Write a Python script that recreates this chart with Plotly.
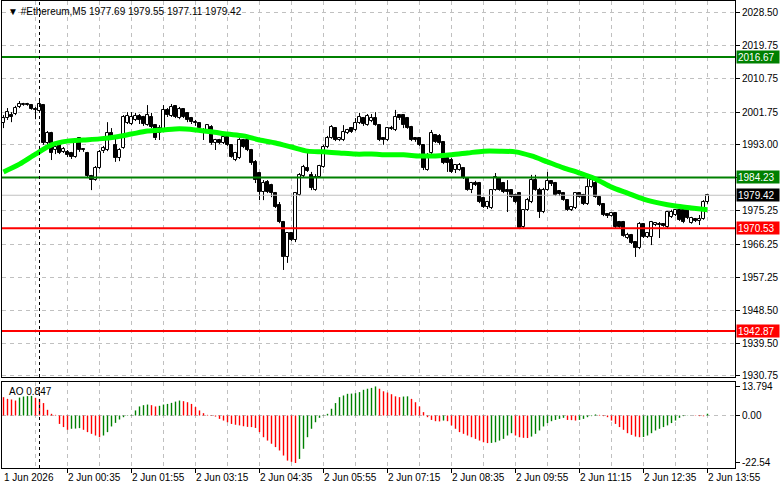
import plotly.graph_objects as go

# ---------------- data ----------------
opens = [
1998.9, 2000.2, 2001.0, 2001.3, 2003.2, 2003.7, 2004.0, 2003.7, 2002.6, 2002.1,
2003.7, 1993.5, 1996.2, 1991.6, 1993.0, 1991.1, 1991.1, 1990.8, 1989.7, 1994.8,
1991.9, 1990.8, 1984.6, 1983.5, 1986.8, 1991.3, 1991.6, 1996.2, 1993.0, 1989.5,
1992.1, 1998.9, 1998.6, 1999.7, 2000.8, 2000.5, 1998.3, 2000.5, 1998.3, 1996.2,
1997.0, 2002.4, 2000.8, 2003.5, 2000.2, 2002.6, 2001.6, 2000.2, 1999.1, 1998.9,
1997.0, 1996.5, 1997.8, 1993.5, 1994.3, 1993.5, 1995.1, 1993.0, 1988.9, 1989.5,
1994.3, 1994.3, 1991.6, 1988.4, 1985.4, 1980.3, 1983.0, 1982.2, 1980.0, 1976.8,
1972.2, 1962.8, 1969.3, 1967.4, 1979.5, 1984.6, 1986.8, 1984.9, 1980.8, 1984.3,
1987.0, 1992.4, 1994.8, 1997.5, 1994.3, 1994.3, 1996.2, 1997.5, 1997.0, 1998.9,
2000.2, 1998.3, 1999.4, 2000.2, 1998.3, 1994.8, 1994.3, 1997.3, 1997.0, 2001.0,
2001.0, 2000.2, 1997.8, 1994.8, 1994.8, 1993.0, 1986.2, 1990.8, 1995.6, 1995.4,
1993.8, 1989.5, 1988.9, 1986.2, 1986.2, 1986.8, 1984.1, 1980.8, 1982.7, 1982.7,
1978.7, 1976.3, 1976.0, 1980.8, 1984.1, 1982.7, 1980.8, 1980.8, 1979.5, 1980.0,
1970.9, 1975.5, 1977.6, 1983.5, 1980.8, 1974.9, 1980.8, 1983.3, 1982.7, 1980.6,
1980.0, 1978.1, 1975.5, 1976.0, 1980.0, 1979.5, 1977.1, 1981.6, 1982.7, 1978.9,
1977.1, 1974.4, 1973.8, 1974.6, 1972.2, 1972.2, 1967.9, 1968.7, 1966.8, 1965.2,
1971.7, 1968.2, 1968.2, 1971.4, 1971.7, 1971.7, 1970.9, 1973.6, 1974.1, 1975.5,
1975.5, 1975.5, 1971.9, 1973.0, 1972.5, 1973.0, 1977.69]

highs = [
2001.0, 2002.9, 2001.8, 2003.5, 2004.8, 2004.3, 2004.3, 2004.0, 2003.2, 2005.1,
2004.0, 1996.7, 1996.5, 1993.0, 1993.2, 1992.4, 1991.6, 1991.1, 1994.3, 1995.1,
1992.1, 1991.1, 1984.9, 1987.3, 1991.6, 1992.7, 1999.1, 1997.5, 1995.6, 1992.1,
2001.0, 2001.8, 2001.8, 2001.6, 2001.3, 2000.8, 2003.7, 2001.6, 1998.6, 1998.3,
2003.7, 2002.9, 2004.0, 2003.7, 2003.2, 2002.9, 2001.8, 2000.5, 1999.7, 1999.1,
1997.5, 1998.6, 1998.3, 1994.6, 1994.6, 1995.4, 1995.4, 1993.2, 1991.1, 1994.8,
1994.6, 1994.6, 1991.9, 1988.9, 1985.7, 1983.5, 1983.5, 1982.5, 1980.3, 1977.6,
1972.5, 1969.5, 1969.5, 1980.3, 1985.4, 1987.6, 1991.1, 1985.7, 1985.1, 1987.6,
1993.0, 1995.4, 1998.3, 1997.8, 1995.1, 1998.3, 1997.3, 1997.8, 2000.2, 2001.6,
2000.5, 2001.3, 2001.3, 2001.8, 1998.6, 1995.1, 1997.8, 1998.1, 2002.4, 2001.3,
2001.3, 2000.5, 1998.1, 1995.1, 1995.1, 1993.2, 1990.8, 1997.0, 1995.9, 1995.9,
1994.0, 1989.7, 1989.5, 1987.8, 1988.1, 1987.0, 1984.3, 1983.0, 1983.3, 1983.0,
1978.9, 1977.9, 1981.1, 1985.4, 1984.3, 1983.0, 1983.5, 1981.1, 1979.8, 1980.3,
1975.7, 1978.7, 1984.9, 1984.9, 1981.4, 1981.4, 1985.7, 1983.5, 1983.0, 1980.8,
1980.3, 1978.4, 1976.5, 1980.3, 1980.3, 1979.8, 1984.3, 1984.3, 1983.8, 1979.2,
1977.3, 1974.6, 1974.9, 1974.9, 1972.5, 1972.5, 1969.3, 1969.0, 1967.1, 1972.2,
1971.9, 1969.5, 1972.5, 1972.2, 1972.2, 1971.9, 1975.2, 1975.5, 1975.7, 1975.7,
1975.7, 1975.7, 1973.6, 1973.3, 1974.1, 1978.1, 1979.55]

lows = [
1997.5, 1999.7, 1999.1, 2001.0, 2002.9, 2003.5, 2003.5, 2002.4, 1999.9, 2001.8,
1993.0, 1993.0, 1988.9, 1990.5, 1990.5, 1990.8, 1989.7, 1989.2, 1989.5, 1991.1,
1991.1, 1984.3, 1980.8, 1983.3, 1986.5, 1990.8, 1991.3, 1994.3, 1988.4, 1988.6,
1991.9, 1998.6, 1998.3, 1999.4, 1998.6, 1998.1, 1998.1, 1997.5, 1994.3, 1994.3,
1996.7, 2000.5, 2000.5, 2000.2, 1999.9, 2000.2, 1999.1, 1998.6, 1998.1, 1997.0,
1994.3, 1996.2, 1993.0, 1991.6, 1993.2, 1993.2, 1992.7, 1989.5, 1988.6, 1989.2,
1992.1, 1991.3, 1987.6, 1982.7, 1978.1, 1978.1, 1980.0, 1978.9, 1976.0, 1971.9,
1959.3, 1961.2, 1967.1, 1966.8, 1979.2, 1984.3, 1985.7, 1980.8, 1980.6, 1984.1,
1986.8, 1992.1, 1994.6, 1994.0, 1994.0, 1994.0, 1995.9, 1996.2, 1996.7, 1998.6,
1998.1, 1998.1, 1999.1, 1998.1, 1994.0, 1993.0, 1994.0, 1997.0, 1996.7, 1999.7,
1997.5, 1997.3, 1994.0, 1993.8, 1992.7, 1986.2, 1986.0, 1990.5, 1993.5, 1993.0,
1987.8, 1985.7, 1985.4, 1985.4, 1986.0, 1983.8, 1980.6, 1980.0, 1981.9, 1977.3,
1976.0, 1975.7, 1975.7, 1980.6, 1980.6, 1980.0, 1974.9, 1978.7, 1977.3, 1970.3,
1970.6, 1975.2, 1977.3, 1980.6, 1973.3, 1974.6, 1980.6, 1981.9, 1979.2, 1979.2,
1977.9, 1975.2, 1975.2, 1975.7, 1978.7, 1976.8, 1976.8, 1981.4, 1978.7, 1976.5,
1973.8, 1973.3, 1973.6, 1970.6, 1970.6, 1968.2, 1967.6, 1966.3, 1962.8, 1964.9,
1967.9, 1967.9, 1966.0, 1971.1, 1967.9, 1970.9, 1970.6, 1973.3, 1973.8, 1972.5,
1971.9, 1973.0, 1971.7, 1972.2, 1971.4, 1972.8, 1977.11]

closes = [
2000.2, 2001.8, 2000.5, 2002.9, 2004.0, 2004.0, 2003.7, 2002.6, 2002.4, 2004.0,
1993.5, 1996.2, 1990.8, 1992.4, 1990.8, 1991.9, 1990.3, 1989.7, 1993.5, 1991.6,
1991.6, 1984.6, 1983.5, 1986.8, 1991.1, 1992.1, 1996.2, 1995.4, 1989.5, 1991.6,
2000.5, 2000.8, 2000.5, 2000.8, 1999.7, 1998.6, 2001.0, 1997.8, 1994.8, 1997.5,
2002.4, 2001.0, 2003.2, 2000.5, 2002.6, 2000.5, 1999.7, 1999.1, 1998.9, 1997.5,
1996.5, 1998.3, 1993.5, 1994.3, 1993.5, 1995.1, 1993.0, 1989.7, 1990.8, 1994.3,
1992.4, 1991.6, 1988.1, 1983.5, 1980.3, 1982.7, 1980.3, 1980.0, 1976.3, 1972.2,
1962.8, 1969.3, 1967.4, 1980.0, 1984.9, 1987.0, 1986.0, 1981.4, 1984.3, 1987.3,
1992.4, 1994.8, 1997.8, 1994.3, 1994.8, 1996.5, 1997.0, 1996.5, 1998.9, 2000.5,
1998.6, 2000.8, 2000.2, 1998.3, 1994.3, 1994.3, 1997.5, 1997.5, 2000.5, 2000.2,
1998.3, 1997.5, 1994.3, 1994.3, 1993.0, 1986.8, 1990.3, 1996.2, 1993.8, 1993.5,
1988.1, 1988.1, 1985.7, 1987.6, 1987.6, 1984.1, 1980.8, 1982.7, 1982.2, 1977.6,
1976.3, 1977.6, 1980.8, 1984.3, 1980.8, 1980.3, 1980.3, 1978.9, 1977.6, 1970.6,
1975.5, 1978.1, 1983.5, 1980.8, 1974.9, 1980.8, 1983.3, 1982.5, 1979.5, 1979.8,
1978.1, 1975.5, 1976.3, 1980.0, 1978.9, 1977.1, 1981.6, 1983.5, 1978.9, 1976.8,
1974.1, 1973.8, 1974.6, 1970.9, 1970.9, 1968.4, 1968.7, 1966.6, 1965.2, 1971.7,
1968.2, 1969.3, 1972.2, 1971.9, 1971.4, 1971.1, 1974.9, 1974.9, 1975.5, 1972.8,
1972.2, 1973.3, 1973.3, 1972.5, 1973.0, 1977.6, 1979.42]

# moving average read every 4 bars
ma_idx = list(range(0, 177, 4))
ma_vals = [1985.7, 1987.8, 1990.5, 1993.0, 1994.0, 1994.3, 1994.6, 1995.1, 1995.9, 1996.7,
           1997.0, 1997.3, 1997.0, 1996.5, 1995.9, 1995.4, 1994.3, 1993.5, 1992.4, 1991.3,
           1991.1, 1990.8, 1990.5, 1990.5, 1990.3, 1990.3, 1990.0, 1990.0, 1990.3, 1990.8,
           1991.3, 1991.3, 1991.1, 1990.0, 1988.4, 1986.8, 1985.4, 1983.8, 1981.6, 1980.0,
           1978.4, 1977.3, 1976.5, 1976.0, 1975.5]

ao_vals = [
8.7, 7.9, 7.6, 7.1, 8.5, 9.0, 9.2, 9.3, 8.4, 7.9,
5.9, 2.7, 0.8, 0.3, -4.0, -5.5, -6.8, -6.3, -6.2, -6.0,
-6.8, -7.9, -8.7, -9.5, -10.3, -9.5, -7.9, -5.2, -3.5, -1.9,
-0.8, -0.2, 0.3, 2.4, 4.3, 4.9, 5.2, 4.9, 4.3, 4.6,
5.2, 5.5, 6.0, 6.6, 7.1, 6.8, 6.3, 5.5, 4.0, 2.4,
1.1, 0.3, -0.2, -0.5, -1.6, -2.4, -3.2, -4.0, -4.4, -4.7,
-5.1, -5.4, -5.5, -5.9, -7.9, -10.3, -11.9, -13.4, -15.0, -16.6,
-19.0, -21.4, -22.0, -22.54, -20.6, -15.8, -10.3, -6.3, -3.2, -1.1,
-0.2, 0.8, 3.2, 5.9, 8.7, 9.5, 10.3, 10.4, 10.6, 11.1,
12.2, 12.7, 13.1, 13.794, 12.7, 11.5, 10.9, 10.1, 9.1, 8.7,
9.0, 9.1, 7.9, 6.3, 4.3, 1.6, -0.8, -2.1, -2.7, -2.8,
-2.4, -2.7, -4.7, -6.3, -7.9, -8.7, -9.5, -10.3, -11.1, -11.9,
-12.7, -13.1, -13.0, -12.7, -11.9, -11.1, -9.5, -8.4, -9.5, -10.3,
-10.6, -10.7, -10.0, -8.7, -7.1, -5.2, -3.6, -2.7, -2.1, -1.6,
-1.1, -2.1, -2.2, -2.4, -2.1, -1.6, -0.8, -0.3, 0.5, 0.3,
-0.3, -0.8, -2.4, -4.0, -5.5, -6.8, -8.4, -9.2, -10.0, -10.3,
-10.2, -9.5, -8.4, -7.1, -6.3, -5.5, -4.7, -3.6, -2.4, -1.1,
-0.3, -0.1, 0.05, -0.15, -0.3, -0.35, 0.847]

green_levels = [2016.67, 1984.23]
red_levels = [1970.53, 1942.87]
bid_price = 1979.42

price_ticks = [2028.50, 2019.75, 2010.75, 2001.75, 1993.00, 1984.25,
               1975.25, 1966.25, 1957.25, 1948.50, 1939.50, 1930.75]
price_ticktext = ["2028.50", "2019.75", "2010.75", "2001.75", "1993.00", "",
                  "1975.25", "1966.25", "1957.25", "1948.50", "1939.50", "1930.75"]
ao_ticks = [13.794, 0.0, -22.54]
ao_ticktext = ["13.794", "0.00", "-22.54"]

time_idx = list(range(0, 177, 16))
time_labels = ["1 Jun 2026", "2 Jun 00:35", "2 Jun 01:55", "2 Jun 03:15", "2 Jun 04:35",
               "2 Jun 05:55", "2 Jun 07:15", "2 Jun 08:35", "2 Jun 09:55", "2 Jun 11:15",
               "2 Jun 12:35", "2 Jun 13:55"]
day_sep_idx = 9
symbol = "#Ethereum,M5"

# ---------------- figure ----------------
N = len(closes)
idx = list(range(N))
XMIN, XMAX = -0.375, 182.875
FONT = "Liberation Sans"
FS = 10
GRID = "#c0c0c0"

fig = go.Figure()

# candle bodies
body_base = [min(o, c) for o, c in zip(opens, closes)]
body_h = [max(abs(c - o), 0.06) for o, c in zip(opens, closes)]
body_col = ["white" if c >= o else "black" for o, c in zip(opens, closes)]
fig.add_trace(go.Bar(x=idx, y=body_h, base=body_base, width=0.55,
                     marker=dict(color=body_col, line=dict(color="black", width=1)),
                     xaxis="x", yaxis="y", hoverinfo="skip", showlegend=False))

# wicks (upper and lower segments so they do not cross white bodies)
wx, wy = [], []
for i in idx:
    top = max(opens[i], closes[i]); bot = min(opens[i], closes[i])
    if highs[i] > top:
        wx += [i, i, None]; wy += [top, highs[i], None]
    if lows[i] < bot:
        wx += [i, i, None]; wy += [bot, lows[i], None]
fig.add_trace(go.Scatter(x=wx, y=wy, mode="lines", line=dict(color="black", width=1),
                         xaxis="x", yaxis="y", hoverinfo="skip", showlegend=False))

# bid line
fig.add_trace(go.Scatter(x=[XMIN, XMAX], y=[bid_price, bid_price], mode="lines",
                         line=dict(color="#c0c0c0", width=1), xaxis="x", yaxis="y",
                         hoverinfo="skip", showlegend=False))
# level lines
for lv in green_levels:
    fig.add_trace(go.Scatter(x=[XMIN, XMAX], y=[lv, lv], mode="lines",
                             line=dict(color="#008000", width=2), xaxis="x", yaxis="y",
                             hoverinfo="skip", showlegend=False))
for lv in red_levels:
    fig.add_trace(go.Scatter(x=[XMIN, XMAX], y=[lv, lv], mode="lines",
                             line=dict(color="#ff0000", width=2), xaxis="x", yaxis="y",
                             hoverinfo="skip", showlegend=False))

# moving average
fig.add_trace(go.Scatter(x=ma_idx, y=ma_vals, mode="lines",
                         line=dict(color="#00ff00", width=5, shape="spline", smoothing=0.8),
                         xaxis="x", yaxis="y", hoverinfo="skip", showlegend=False))

# AO histogram as thin vertical lines, green when rising, red otherwise
gx, gy, rx, ry = [], [], [], []
for k in idx:
    rising = k > 0 and ao_vals[k] > ao_vals[k - 1]
    if rising:
        gx += [k, k, None]; gy += [0, ao_vals[k], None]
    else:
        rx += [k, k, None]; ry += [0, ao_vals[k], None]
fig.add_trace(go.Scatter(x=gx, y=gy, mode="lines", line=dict(color="#008000", width=1.4),
                         xaxis="x2", yaxis="y2", hoverinfo="skip", showlegend=False))
fig.add_trace(go.Scatter(x=rx, y=ry, mode="lines", line=dict(color="#ff0000", width=1.4),
                         xaxis="x2", yaxis="y2", hoverinfo="skip", showlegend=False))

axis_common = dict(showline=True, linecolor="black", linewidth=1, mirror=True,
                   zeroline=False, fixedrange=True)

fig.update_layout(
    width=781, height=489,
    margin=dict(l=2, r=46, t=1, b=21),
    paper_bgcolor="white", plot_bgcolor="white",
    barmode="overlay", bargap=0,
    font=dict(family=FONT, size=FS, color="black"),
    xaxis=dict(domain=[0, 1], anchor="y", range=[XMIN, XMAX],
               tickmode="array", tickvals=list(range(8, 177, 8)), ticks="",
               showticklabels=False, showgrid=True, gridcolor=GRID, gridwidth=1,
               griddash="4px,4px", **axis_common),
    yaxis=dict(domain=[0.19486, 1], anchor="x", range=[1930.47, 2031.73], side="right",
               tickmode="array", tickvals=price_ticks, ticktext=price_ticktext,
               ticks="outside", ticklen=4, tickcolor="black",
               showgrid=True, gridcolor=GRID, gridwidth=1, griddash="4px,4px",
               tickfont=dict(family=FONT, size=FS, color="black"), **axis_common),
    xaxis2=dict(domain=[0, 1], anchor="y2", range=[XMIN, XMAX],
                tickmode="array", tickvals=list(range(8, 177, 16)), ticks="",
                showticklabels=False, showgrid=True, gridcolor=GRID, gridwidth=1,
                griddash="4px,4px",
                minor=dict(tickmode="array", tickvals=time_idx[1:], ticks="outside",
                           ticklen=4, tickcolor="black", showgrid=True,
                           gridcolor=GRID, gridwidth=1, griddash="4px,4px"),
                **axis_common),
    yaxis2=dict(domain=[0, 0.18415], anchor="x2", range=[-24.92, 15.9], side="right",
                tickmode="array", tickvals=ao_ticks, ticktext=ao_ticktext,
                ticks="outside", ticklen=4, tickcolor="black", showgrid=False,
                tickfont=dict(family=FONT, size=FS, color="black"), **axis_common),
)

shapes = [
    dict(type="line", xref="x2 domain", yref="y2", x0=0, x1=1, y0=0, y1=0,
         line=dict(color=GRID, width=1, dash="4px,4px"), layer="below"),
    dict(type="line", xref="x", yref="y domain", x0=day_sep_idx, x1=day_sep_idx, y0=0, y1=1,
         line=dict(color="black", width=1, dash="3px,3px"), layer="above"),
    dict(type="line", xref="x2", yref="y2 domain", x0=day_sep_idx, x1=day_sep_idx, y0=0, y1=1,
         line=dict(color="black", width=1, dash="3px,3px"), layer="above"),
]
fig.update_layout(shapes=shapes)

ann = []
# header
ann.append(dict(xref="paper", yref="paper", x=0, y=1, xanchor="left", yanchor="top",
                xshift=4, yshift=-3, showarrow=False, align="left",
                text="\u25bc\u00a0" + symbol + "\u00a0" +
                     "\u00a0".join(f"{v:.2f}" for v in (opens[-1], highs[-1], lows[-1], closes[-1])),
                font=dict(family=FONT, size=FS, color="black")))
# AO label
ann.append(dict(xref="paper", yref="y2 domain", x=0, y=1, xanchor="left", yanchor="top",
                xshift=5, yshift=-2, showarrow=False,
                text=f"AO {ao_vals[-1]:.3f}", font=dict(family=FONT, size=FS, color="black")))
# time labels
for t, lab in zip(time_idx, time_labels):
    ann.append(dict(xref="x2", yref="paper", x=t, y=0, xanchor="left", yanchor="top",
                    xshift=-2, yshift=-2, showarrow=False, text=lab,
                    font=dict(family=FONT, size=FS, color="black")))
# price tags on the right
tags = [(lv, "#008000") for lv in green_levels] + [(bid_price, "black")] + \
       [(lv, "#ff0000") for lv in red_levels]
for lv, col in tags:
    ann.append(dict(xref="paper", yref="y", x=1, y=lv, xanchor="left", yanchor="middle",
                    xshift=1, showarrow=False, text=f"{lv:.2f}", bgcolor=col,
                    width=40, height=10, align="left", borderpad=1,
                    font=dict(family=FONT, size=FS, color="white")))
fig.update_layout(annotations=ann)

fig.write_html("out.html")
